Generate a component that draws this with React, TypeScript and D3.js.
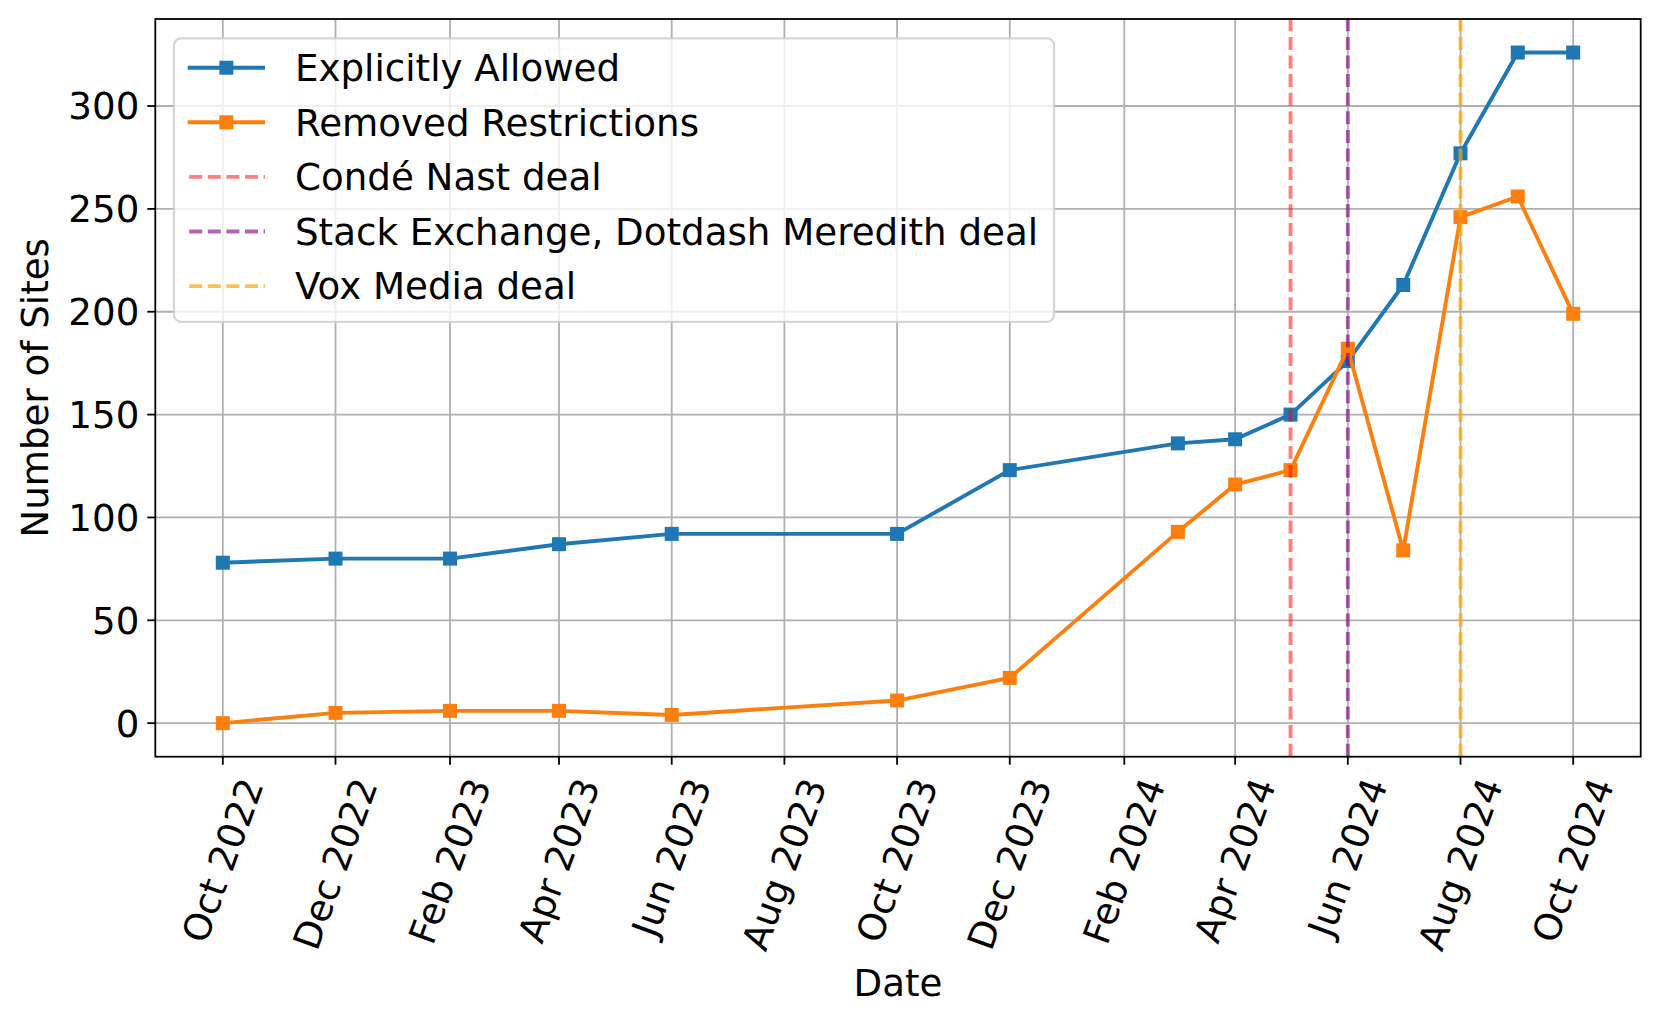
import React, { useEffect, useRef } from "react";
import * as d3 from "d3";

const W = 1660;
const H = 1022;

// Observation dates (one per data point)
const dates = [
  "2022-10-01", "2022-12-01", "2023-02-01", "2023-04-01", "2023-06-01",
  "2023-10-01", "2023-12-01", "2024-03-01", "2024-04-01", "2024-05-01",
  "2024-06-01", "2024-07-01", "2024-08-01", "2024-09-01", "2024-10-01",
];
const explicitlyAllowed = [78, 80, 80, 87, 92, 92, 123, 136, 138, 150, 176, 213, 277, 326, 326];
const removedRestrictions = [0, 5, 6, 6, 4, 11, 22, 93, 116, 123, 182, 84, 246, 256, 199];

const seriesNames = ["Explicitly Allowed", "Removed Restrictions"];
const seriesColors = ["#1f77b4", "#ff7f0e"];

const dealNames = ["Condé Nast deal", "Stack Exchange, Dotdash Meredith deal", "Vox Media deal"];
const dealDates = ["2024-05-01", "2024-06-01", "2024-08-01"];
const dealColors = ["red", "purple", "orange"];
const dealAlphas = [0.5, 0.6, 0.7];

const xTickDates = [
  "2022-10-01", "2022-12-01", "2023-02-01", "2023-04-01", "2023-06-01", "2023-08-01",
  "2023-10-01", "2023-12-01", "2024-02-01", "2024-04-01", "2024-06-01", "2024-08-01", "2024-10-01",
];
const yTicks = [0, 50, 100, 150, 200, 250, 300];

const xLabel = "Date";
const yLabel = "Number of Sites";

export default function App() {
  const ref = useRef<SVGSVGElement>(null);

  useEffect(() => {
    const svg = d3.select(ref.current);
    svg.selectAll("*").remove();

    const fs = 37.2;
    const font = "'DejaVu Sans', sans-serif";
    const L = 155.3, R = 1640.7, T = 19, B = 756.7;
    const tickLen = 8, tickPad = 8, lw = 1.8;
    const slw = 3.9;

    const parse = d3.utcParse("%Y-%m-%d");
    const dd = dates.map((s) => parse(s) as Date);
    const dMin = +d3.min(dd)!, dMax = +d3.max(dd)!;
    const span = dMax - dMin;
    const x = d3.scaleUtc()
      .domain([new Date(dMin - span * 0.05), new Date(dMax + span * 0.05)])
      .range([L, R]);
    const all = explicitlyAllowed.concat(removedRestrictions);
    const lo = d3.min(all)!, hi = d3.max(all)!;
    const y = d3.scaleLinear()
      .domain([lo - (hi - lo) * 0.05, hi + (hi - lo) * 0.05])
      .range([B, T]);

    svg.append("rect").attr("width", W).attr("height", H).attr("fill", "white");

    // grid
    const grid = svg.append("g");
    xTickDates.forEach((s) => {
      const xx = x(parse(s) as Date);
      grid.append("line").attr("x1", xx).attr("x2", xx).attr("y1", T).attr("y2", B)
        .attr("stroke", "#b0b0b0").attr("stroke-width", lw);
    });
    yTicks.forEach((v) => {
      grid.append("line").attr("x1", L).attr("x2", R).attr("y1", y(v)).attr("y2", y(v))
        .attr("stroke", "#b0b0b0").attr("stroke-width", lw);
    });

    // series
    const series = [explicitlyAllowed, removedRestrictions];
    const ms = 14;
    series.forEach((vals, si) => {
      const pts = vals.map((v, i) => [x(dd[i]), y(v)] as [number, number]);
      svg.append("path")
        .attr("d", d3.line()(pts))
        .attr("fill", "none")
        .attr("stroke", seriesColors[si])
        .attr("stroke-width", slw)
        .attr("stroke-linejoin", "round");
      svg.append("g").selectAll("rect").data(pts).join("rect")
        .attr("x", (p) => p[0] - ms / 2)
        .attr("y", (p) => p[1] - ms / 2)
        .attr("width", ms).attr("height", ms)
        .attr("fill", seriesColors[si]);
    });

    // deal lines
    dealDates.forEach((s, i) => {
      const xx = x(parse(s) as Date);
      svg.append("line").attr("x1", xx).attr("x2", xx).attr("y1", B).attr("y2", T)
        .attr("stroke", dealColors[i]).attr("stroke-opacity", dealAlphas[i])
        .attr("stroke-width", slw).attr("stroke-dasharray", "13 5.6");
    });

    // spines
    svg.append("rect").attr("x", L).attr("y", T).attr("width", R - L).attr("height", B - T)
      .attr("fill", "none").attr("stroke", "black").attr("stroke-width", lw);

    // x ticks
    const fmt = d3.utcFormat("%b %Y");
    const h = fs * 1.164;
    const c70 = Math.cos((70 * Math.PI) / 180);
    const topY = B + tickLen + tickPad;
    xTickDates.forEach((s) => {
      const xx = x(parse(s) as Date);
      svg.append("line").attr("x1", xx).attr("x2", xx).attr("y1", B).attr("y2", B + tickLen)
        .attr("stroke", "black").attr("stroke-width", lw);
      const t = svg.append("text")
        .attr("font-family", font).attr("font-size", fs)
        .attr("text-anchor", "end").attr("dy", 0.346 * fs)
        .text(fmt(parse(s) as Date));
      const len = (t.node() as SVGTextElement).getComputedTextLength();
      const ax = xx + (c70 * len) / 2;
      const ay = topY + (c70 * h) / 2;
      t.attr("transform", `translate(${ax},${ay}) rotate(-70)`);
    });

    // y ticks
    yTicks.forEach((v) => {
      svg.append("line").attr("x1", L - tickLen).attr("x2", L).attr("y1", y(v)).attr("y2", y(v))
        .attr("stroke", "black").attr("stroke-width", lw);
      svg.append("text")
        .attr("font-family", font).attr("font-size", fs)
        .attr("text-anchor", "end")
        .attr("x", L - tickLen - tickPad).attr("y", y(v)).attr("dy", 0.36 * fs)
        .text(String(v));
    });

    // axis labels
    svg.append("text").attr("font-family", font).attr("font-size", fs)
      .attr("text-anchor", "middle")
      .attr("x", (L + R) / 2).attr("y", 996)
      .text(xLabel);
    svg.append("text").attr("font-family", font).attr("font-size", fs)
      .attr("text-anchor", "middle")
      .attr("transform", `translate(47.5,${(T + B) / 2}) rotate(-90)`)
      .text(yLabel);

    // legend
    const lg = svg.append("g");
    const lgLeft = L + 18.7, lgTop = T + 19.3;
    const rowH = 54.6, firstRow = 29.4;
    const hx0 = lgLeft + 13.7, hx1 = lgLeft + 91, textX = lgLeft + 121;
    const frame = lg.append("rect");
    const labels = seriesNames.concat(dealNames);
    let maxW = 0;
    labels.forEach((lab, i) => {
      const ry = lgTop + firstRow + i * rowH;
      if (i < 2) {
        lg.append("line").attr("x1", hx0).attr("x2", hx1).attr("y1", ry).attr("y2", ry)
          .attr("stroke", seriesColors[i]).attr("stroke-width", slw);
        lg.append("rect").attr("x", (hx0 + hx1) / 2 - ms / 2).attr("y", ry - ms / 2)
          .attr("width", ms).attr("height", ms).attr("fill", seriesColors[i]);
      } else {
        const k = i - 2;
        lg.append("line").attr("x1", hx0 + 1.5).attr("x2", hx1).attr("y1", ry).attr("y2", ry)
          .attr("stroke", dealColors[k]).attr("stroke-opacity", dealAlphas[k])
          .attr("stroke-width", slw).attr("stroke-dasharray", "13 5.6");
      }
      const t = lg.append("text").attr("font-family", font).attr("font-size", fs)
        .attr("x", textX).attr("y", ry).attr("dy", 0.36 * fs).text(lab);
      maxW = Math.max(maxW, (t.node() as SVGTextElement).getComputedTextLength());
    });
    const lgRight = textX + maxW + 16;
    const lgBottom = lgTop + firstRow + (labels.length - 1) * rowH + 35.7;
    frame.attr("x", lgLeft).attr("y", lgTop)
      .attr("width", lgRight - lgLeft).attr("height", lgBottom - lgTop)
      .attr("rx", 7).attr("ry", 7)
      .attr("fill", "white").attr("fill-opacity", 0.8)
      .attr("stroke", "#cccccc").attr("stroke-opacity", 0.8).attr("stroke-width", 2.2);
  }, []);

  return (
    <div style={{ position: "absolute", left: 0, top: 0 }}>
      <svg ref={ref} width={W} height={H} style={{ display: "block" }} />
    </div>
  );
}
